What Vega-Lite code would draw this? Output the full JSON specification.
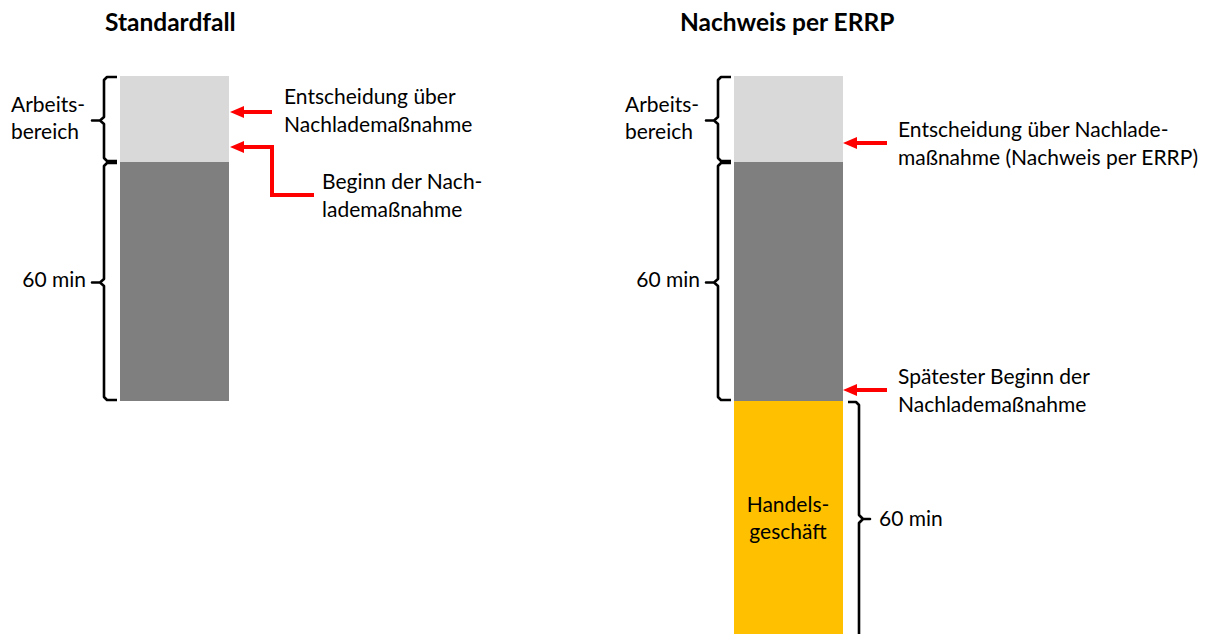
{
  "$schema": "https://vega.github.io/schema/vega-lite/v6.json",
  "width": 1210,
  "height": 634,
  "autosize": {"type": "fit", "contains": "padding"},
  "padding": 0,
  "background": "white",
  "config": {"view": {"stroke": null}, "axis": {"disable": true}, "legend": {"disable": true}},
  "datasets": {
    "bars": [
      {"panel": "Standardfall", "part": "Arbeitsbereich", "x0": 120, "x1": 229, "y0": 76, "y1": 162},
      {"panel": "Standardfall", "part": "60 min", "x0": 120, "x1": 229, "y0": 162, "y1": 401},
      {"panel": "Nachweis per ERRP", "part": "Arbeitsbereich", "x0": 734, "x1": 843, "y0": 76, "y1": 162},
      {"panel": "Nachweis per ERRP", "part": "60 min", "x0": 734, "x1": 843, "y0": 162, "y1": 401},
      {"panel": "Nachweis per ERRP", "part": "Handelsgeschäft", "x0": 734, "x1": 843, "y0": 401, "y1": 634}
    ],
    "braces": [
      {"id": "A", "o": 1, "x": 117, "y": 77}, {"id": "A", "o": 2, "x": 107, "y": 77}, {"id": "A", "o": 3, "x": 104, "y": 80},
      {"id": "A", "o": 4, "x": 104, "y": 117}, {"id": "A", "o": 5, "x": 100, "y": 120.5}, {"id": "A", "o": 6, "x": 92, "y": 120.5},
      {"id": "A", "o": 7, "x": 100, "y": 120.5}, {"id": "A", "o": 8, "x": 104, "y": 124}, {"id": "A", "o": 9, "x": 104, "y": 158},
      {"id": "A", "o": 10, "x": 107, "y": 161}, {"id": "A", "o": 11, "x": 117, "y": 161},
      {"id": "B", "o": 1, "x": 117, "y": 163}, {"id": "B", "o": 2, "x": 107, "y": 163}, {"id": "B", "o": 3, "x": 104, "y": 166},
      {"id": "B", "o": 4, "x": 104, "y": 279}, {"id": "B", "o": 5, "x": 100, "y": 282.5}, {"id": "B", "o": 6, "x": 92, "y": 282.5},
      {"id": "B", "o": 7, "x": 100, "y": 282.5}, {"id": "B", "o": 8, "x": 104, "y": 286}, {"id": "B", "o": 9, "x": 104, "y": 397},
      {"id": "B", "o": 10, "x": 107, "y": 400}, {"id": "B", "o": 11, "x": 117, "y": 400},
      {"id": "C", "o": 1, "x": 731, "y": 77}, {"id": "C", "o": 2, "x": 721, "y": 77}, {"id": "C", "o": 3, "x": 718, "y": 80},
      {"id": "C", "o": 4, "x": 718, "y": 117}, {"id": "C", "o": 5, "x": 714, "y": 120.5}, {"id": "C", "o": 6, "x": 706, "y": 120.5},
      {"id": "C", "o": 7, "x": 714, "y": 120.5}, {"id": "C", "o": 8, "x": 718, "y": 124}, {"id": "C", "o": 9, "x": 718, "y": 158},
      {"id": "C", "o": 10, "x": 721, "y": 161}, {"id": "C", "o": 11, "x": 731, "y": 161},
      {"id": "D", "o": 1, "x": 731, "y": 163}, {"id": "D", "o": 2, "x": 721, "y": 163}, {"id": "D", "o": 3, "x": 718, "y": 166},
      {"id": "D", "o": 4, "x": 718, "y": 279}, {"id": "D", "o": 5, "x": 714, "y": 282.5}, {"id": "D", "o": 6, "x": 706, "y": 282.5},
      {"id": "D", "o": 7, "x": 714, "y": 282.5}, {"id": "D", "o": 8, "x": 718, "y": 286}, {"id": "D", "o": 9, "x": 718, "y": 397},
      {"id": "D", "o": 10, "x": 721, "y": 400}, {"id": "D", "o": 11, "x": 731, "y": 400},
      {"id": "E", "o": 1, "x": 848, "y": 402}, {"id": "E", "o": 2, "x": 856, "y": 402}, {"id": "E", "o": 3, "x": 859, "y": 405},
      {"id": "E", "o": 4, "x": 859, "y": 515}, {"id": "E", "o": 5, "x": 863, "y": 519}, {"id": "E", "o": 6, "x": 870, "y": 519},
      {"id": "E", "o": 7, "x": 863, "y": 519}, {"id": "E", "o": 8, "x": 859, "y": 523}, {"id": "E", "o": 9, "x": 859, "y": 640}
    ],
    "arrows": [
      {"id": "L1", "o": 1, "x": 237, "y": 112}, {"id": "L1", "o": 2, "x": 272, "y": 112},
      {"id": "L2", "o": 1, "x": 237, "y": 147}, {"id": "L2", "o": 2, "x": 272, "y": 147}, {"id": "L2", "o": 3, "x": 272, "y": 195}, {"id": "L2", "o": 4, "x": 314, "y": 195},
      {"id": "R1", "o": 1, "x": 850, "y": 143}, {"id": "R1", "o": 2, "x": 887, "y": 143},
      {"id": "R2", "o": 1, "x": 850, "y": 390}, {"id": "R2", "o": 2, "x": 887, "y": 390}
    ],
    "heads": [
      {"id": "L1", "x": 230, "y": 112}, {"id": "L2", "x": 230, "y": 147},
      {"id": "R1", "x": 843, "y": 143}, {"id": "R2", "x": 843, "y": 390}
    ],
    "titles": [
      {"text": "Standardfall", "x": 105, "y": 24},
      {"text": "Nachweis per ERRP", "x": 680, "y": 24}
    ],
    "labelsLeft": [
      {"text": "Arbeits-", "x": 11, "y": 106},
      {"text": "bereich", "x": 11, "y": 133},
      {"text": "Arbeits-", "x": 625, "y": 106},
      {"text": "bereich", "x": 625, "y": 133},
      {"text": "Entscheidung über", "x": 284, "y": 98},
      {"text": "Nachlademaßnahme", "x": 284, "y": 126},
      {"text": "Beginn der Nach-", "x": 322, "y": 183},
      {"text": "lademaßnahme", "x": 322, "y": 211},
      {"text": "Entscheidung über Nachlade-", "x": 898, "y": 131},
      {"text": "maßnahme (Nachweis per ERRP)", "x": 898, "y": 159},
      {"text": "Spätester Beginn der", "x": 898, "y": 378},
      {"text": "Nachlademaßnahme", "x": 898, "y": 406},
      {"text": "60 min", "x": 879, "y": 520}
    ],
    "labelsRight": [
      {"text": "60 min", "x": 86, "y": 281},
      {"text": "60 min", "x": 700, "y": 281}
    ],
    "labelsCenter": [
      {"text": "Handels-", "x": 788, "y": 506},
      {"text": "geschäft", "x": 788, "y": 533}
    ]
  },
  "layer": [
    {
      "data": {"name": "bars"},
      "mark": {"type": "rect"},
      "encoding": {
        "x": {"field": "x0", "type": "quantitative", "scale": {"domain": [0, 1210], "nice": false, "zero": false}},
        "x2": {"field": "x1"},
        "y": {"field": "y0", "type": "quantitative", "scale": {"domain": [0, 634], "nice": false, "zero": false, "reverse": true}},
        "y2": {"field": "y1"},
        "color": {"field": "part", "type": "nominal", "scale": {"domain": ["Arbeitsbereich", "60 min", "Handelsgeschäft"], "range": ["#d9d9d9", "#7f7f7f", "#ffc000"]}, "legend": null}
      }
    },
    {
      "data": {"name": "braces"},
      "mark": {"type": "line", "color": "#000000", "strokeWidth": 2.6, "clip": true, "strokeJoin": "round"},
      "encoding": {
        "x": {"field": "x", "type": "quantitative"},
        "y": {"field": "y", "type": "quantitative"},
        "detail": {"field": "id"},
        "order": {"field": "o", "type": "quantitative"}
      }
    },
    {
      "data": {"name": "arrows"},
      "mark": {"type": "line", "color": "#ff0000", "strokeWidth": 4, "strokeJoin": "miter", "strokeCap": "butt"},
      "encoding": {
        "x": {"field": "x", "type": "quantitative"},
        "y": {"field": "y", "type": "quantitative"},
        "detail": {"field": "id"},
        "order": {"field": "o", "type": "quantitative"}
      }
    },
    {
      "data": {"name": "heads"},
      "mark": {"type": "point", "shape": "M 0 0 L 2 -0.85 L 2 0.85 Z", "filled": true, "color": "#ff0000", "opacity": 1, "size": 196, "strokeWidth": 0},
      "encoding": {
        "x": {"field": "x", "type": "quantitative"},
        "y": {"field": "y", "type": "quantitative"}
      }
    },
    {
      "data": {"name": "titles"},
      "mark": {"type": "text", "align": "left", "baseline": "middle", "font": "Lato", "fontSize": 24.5, "fontWeight": "bold", "color": "#000000"},
      "encoding": {
        "x": {"field": "x", "type": "quantitative"},
        "y": {"field": "y", "type": "quantitative"},
        "text": {"field": "text"}
      }
    },
    {
      "data": {"name": "labelsLeft"},
      "mark": {"type": "text", "align": "left", "baseline": "middle", "font": "Lato", "fontSize": 21, "color": "#000000"},
      "encoding": {
        "x": {"field": "x", "type": "quantitative"},
        "y": {"field": "y", "type": "quantitative"},
        "text": {"field": "text"}
      }
    },
    {
      "data": {"name": "labelsRight"},
      "mark": {"type": "text", "align": "right", "baseline": "middle", "font": "Lato", "fontSize": 21, "color": "#000000"},
      "encoding": {
        "x": {"field": "x", "type": "quantitative"},
        "y": {"field": "y", "type": "quantitative"},
        "text": {"field": "text"}
      }
    },
    {
      "data": {"name": "labelsCenter"},
      "mark": {"type": "text", "align": "center", "baseline": "middle", "font": "Lato", "fontSize": 21, "color": "#000000"},
      "encoding": {
        "x": {"field": "x", "type": "quantitative"},
        "y": {"field": "y", "type": "quantitative"},
        "text": {"field": "text"}
      }
    }
  ]
}
